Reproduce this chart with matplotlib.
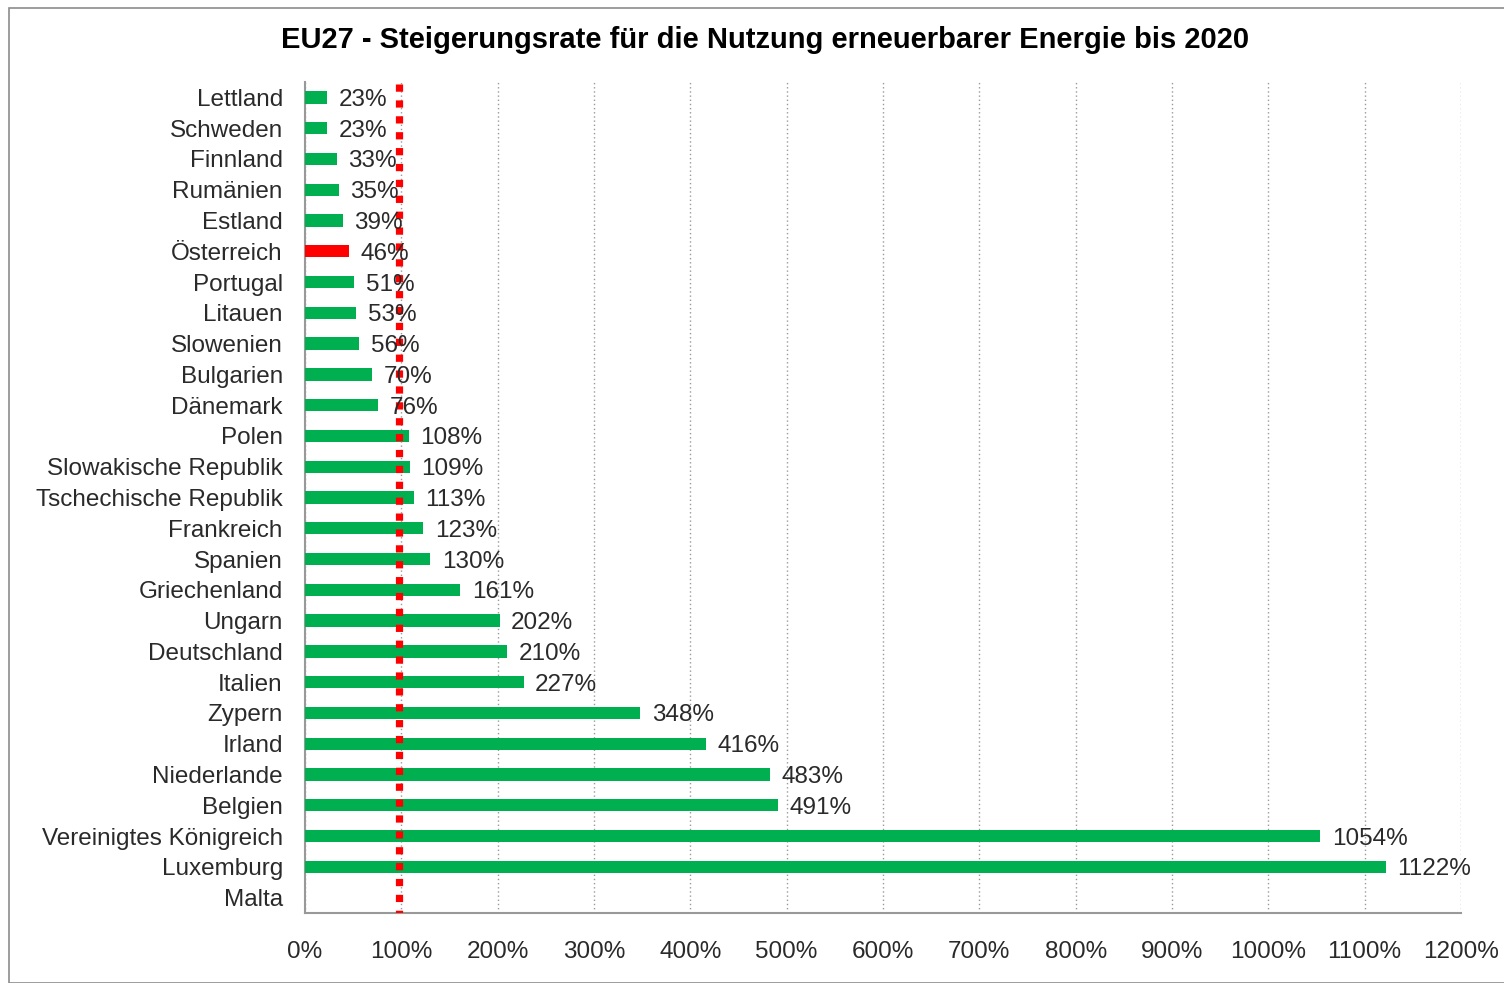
import matplotlib.pyplot as plt
from matplotlib.patches import Rectangle

plt.rcParams['font.family'] = ['Liberation Sans', 'DejaVu Sans']

countries = ["Lettland", "Schweden", "Finnland", "Rumänien", "Estland", "Österreich",
             "Portugal", "Litauen", "Slowenien", "Bulgarien", "Dänemark", "Polen",
             "Slowakische Republik", "Tschechische Republik", "Frankreich", "Spanien",
             "Griechenland", "Ungarn", "Deutschland", "Italien", "Zypern", "Irland",
             "Niederlande", "Belgien", "Vereinigtes Königreich", "Luxemburg", "Malta"]
rates = [23, 23, 33, 35, 39, 46, 51, 53, 56, 70, 76, 108, 109, 113, 123, 130,
         161, 202, 210, 227, 348, 416, 483, 491, 1054, 1122, None]
highlight = "Österreich"
ref_line = 98
xticks = list(range(0, 1300, 100))

fig = plt.figure(figsize=(15.04, 9.83), dpi=100)
fig.patches.append(Rectangle((9 / 1504, 0.0), 1.2, 1 - 8 / 983, transform=fig.transFigure,
                             fill=False, edgecolor='#8c8c8c', linewidth=1.2))
ax = fig.add_axes([305 / 1504, 1 - 913 / 983, (1461 - 305) / 1504, (913 - 82) / 983])

y = list(range(len(countries)))
for i, (c, v) in enumerate(zip(countries, rates)):
    if v is None:
        continue
    col = '#FF0000' if c == highlight else '#00B050'
    ax.barh(i, v, height=0.4, color=col, zorder=3)
    ax.text(v + 12, i, f"{v}%", va='center_baseline', ha='left', fontsize=17.5,
            color='#2a2a2a', zorder=5)

ax.plot([ref_line, ref_line], [-0.45, len(countries) - 0.25], color='#FF0000',
        linewidth=5.2, linestyle=(0, (1.0, 1.2)), zorder=4)

ax.set_xlim(0, 1200)
ax.set_ylim(len(countries) - 0.5, -0.5)
ax.set_yticks(y)
ax.set_yticklabels(countries, fontsize=17.5, color='#2a2a2a')
ax.set_xticks(xticks)
ax.set_xticklabels([f"{t}%" for t in xticks], fontsize=17.5, color='#2a2a2a')
ax.tick_params(axis='both', length=0)
ax.tick_params(axis='y', pad=16)
ax.tick_params(axis='x', pad=20)
ax.grid(axis='x', color='#999999', linestyle=(0, (1, 2)), linewidth=1, zorder=0)
for s in ['top', 'right']:
    ax.spines[s].set_visible(False)
for s in ['left', 'bottom']:
    ax.spines[s].set_color('#999999')
    ax.spines[s].set_linewidth(1.5)

fig.text(765 / 1504, 1 - 40 / 983, "EU27 - Steigerungsrate für die Nutzung erneuerbarer Energie bis 2020",
         ha='center', va='center', fontsize=21, fontweight='bold')

fig.savefig('out.png', dpi=100)
